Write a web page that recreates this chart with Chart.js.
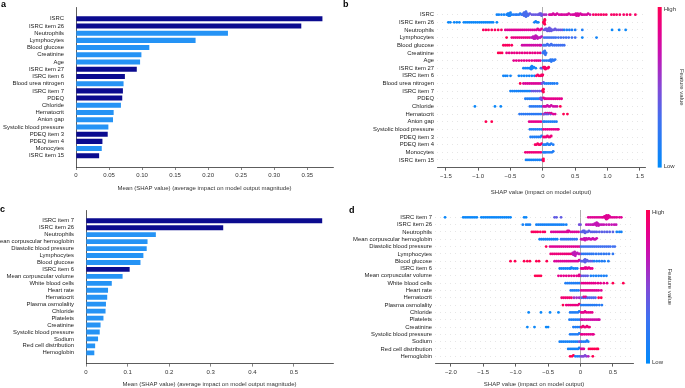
<!DOCTYPE html>
<html>
<head>
<meta charset="utf-8">
<script src="https://cdn.jsdelivr.net/npm/chart.js@4.4.1/dist/chart.umd.min.js"></script>
<style>
body { margin: 0; background: #fff; width: 685px; height: 388px; position: relative; overflow: hidden; font-family: "Liberation Sans", Arial, sans-serif; }
canvas { position: absolute; }
.tag { position: absolute; font-weight: bold; font-size: 9px; color: #000; line-height: 10px; }
</style>
</head>
<body>
<canvas id="chartA" width="340" height="196" style="left:0;top:0"></canvas>
<canvas id="chartB" width="345" height="197" style="left:340px;top:0"></canvas>
<canvas id="chartC" width="340" height="193" style="left:0;top:195px"></canvas>
<canvas id="chartD" width="345" height="193" style="left:340px;top:195px"></canvas>
<div class="tag" style="left:1px;top:-1px">a</div>
<div class="tag" style="left:343px;top:-1px">b</div>
<div class="tag" style="left:0;top:204px">c</div>
<div class="tag" style="left:349px;top:205px">d</div>
<script>
// features, top to bottom
var topLabels = ['ISRC', 'ISRC item 26', 'Neutrophils', 'Lymphocytes', 'Blood glucose', 'Creatinine', 'Age',
    'ISRC item 27', 'ISRC item 6', 'Blood urea nitrogen', 'ISRC item 7', 'PDEQ', 'Chloride', 'Hematocrit',
    'Anion gap', 'Systolic blood pressure', 'PDEQ item 3', 'PDEQ item 4', 'Monocytes', 'ISRC item 15'];
var bottomLabels = ['ISRC item 7', 'ISRC item 26', 'Neutrophils', 'Mean corpuscular hemoglobin', 'Diastolic blood pressure',
    'Lymphocytes', 'Blood glucose', 'ISRC item 6', 'Mean corpuscular volume', 'White blood cells', 'Heart rate',
    'Hematocrit', 'Plasma osmolality', 'Chloride', 'Platelets', 'Creatinine', 'Systolic blood pressure', 'Sodium',
    'Red cell distribution', 'Hemoglobin'];

// mean |SHAP|
var aValues = [0.373, 0.341, 0.230, 0.181, 0.111, 0.099, 0.097, 0.092, 0.074, 0.072, 0.071, 0.070, 0.068,
    0.057, 0.056, 0.049, 0.048, 0.040, 0.039, 0.035];
var cValues = [0.568, 0.330, 0.168, 0.148, 0.146, 0.138, 0.131, 0.105, 0.088, 0.062, 0.053, 0.051, 0.048,
    0.047, 0.042, 0.035, 0.033, 0.029, 0.022, 0.020];

var aTicks = [0, 0.05, 0.10, 0.15, 0.20, 0.25, 0.30, 0.35];
var cTicks = [0, 0.1, 0.2, 0.3, 0.4, 0.5];
var bTicks = [-1.5, -1.0, -0.5, 0, 0.5, 1.0, 1.5];
var dTicks = [-2.0, -1.5, -1.0, -0.5, 0, 0.5];

// SHAP dots per feature: [feature value 0..1, [shap values]]
var bRows = [
    [[0.08, [-0.71, -0.68, -0.64, -0.6]], [0.1, [-0.56, -0.55, -0.54, -0.53, -0.52, -0.52, -0.51, -0.5, -0.48]],
     [0.18, [-0.45, -0.42, -0.4, -0.37, -0.35, -0.33]],
     [0.32, [-0.31, -0.3, -0.29, -0.29, -0.28, -0.28, -0.27, -0.27, -0.26, -0.26, -0.25, -0.24, -0.23, -0.22]],
     [0.42, [-0.2, -0.17, -0.14, -0.11, -0.08, -0.06, -0.05, -0.04, -0.03, -0.02, -0.01]], [0.6, [0.02, 0.05]],
     [0.78, [0.1, 0.12, 0.14, 0.16, 0.18, 0.2, 0.22, 0.25, 0.28, 0.3, 0.33, 0.36, 0.38, 0.4, 0.43, 0.46, 0.48, 0.5, 0.51,
       0.52, 0.53, 0.54, 0.55, 0.56, 0.58, 0.6, 0.62, 0.65, 0.68, 0.7, 0.73]],
     [0.95, [0.78, 0.82, 0.86, 0.9, 0.94, 0.98, 1.06, 1.1, 1.14, 1.19, 1.25, 1.3, 1.35, 1.43]]],
    [[0.05, [-1.46, -1.43, -1.37, -1.33, -1.29, -1.22, -1.19, -1.16, -1.13, -1.1, -1.07, -1.04, -1.01, -0.98, -0.95,
       -0.92, -0.89, -0.86, -0.83, -0.8, -0.77, -0.71]], [0.1, [-0.13, -0.11, -0.09, -0.07]],
     [1, [0.01, 0.02, 0.02, 0.02, 0.03, 0.03, 0.03]]],
    [[0.97, [-0.92, -0.88, -0.84, -0.79, -0.74, -0.69, -0.64]],
     [0.82, [-0.58, -0.55, -0.52, -0.49, -0.46, -0.43, -0.4, -0.37, -0.34, -0.31, -0.28, -0.25, -0.22, -0.19, -0.16,
       -0.13, -0.1, -0.08, -0.06, -0.04, -0.02]],
     [0.42, [0.02, 0.04, 0.05, 0.06, 0.07, 0.08, 0.09, 0.1, 0.1, 0.11, 0.12, 0.13, 0.15, 0.17, 0.19, 0.21, 0.24, 0.27, 0.3]],
     [0.15, [0.33, 0.37, 0.41, 0.45, 0.5, 0.61]], [0.05, [1.07, 1.18, 1.28]]],
    [[1, [-0.56]], [0.88, [-0.48, -0.45, -0.42, -0.39, -0.36, -0.33, -0.3, -0.27, -0.24, -0.21]],
     [0.68, [-0.18, -0.16, -0.15, -0.14, -0.13, -0.12, -0.12, -0.11, -0.1, -0.09, -0.08, -0.06, -0.04, -0.02]],
     [0.3, [0.02, 0.05, 0.08, 0.11, 0.14, 0.17, 0.2, 0.24, 0.28, 0.32, 0.36, 0.4, 0.45, 0.5]], [0.08, [0.61, 0.83]]],
    [[0.97, [-0.61, -0.58, -0.55, -0.52, -0.48]],
     [0.75, [-0.32, -0.29, -0.26, -0.23, -0.2, -0.17, -0.14, -0.11, -0.08, -0.05, -0.03]],
     [0.3, [0.01, 0.03, 0.05, 0.07, 0.09, 0.11, 0.13, 0.15, 0.18, 0.21, 0.24, 0.27, 0.3, 0.33]]],
    [[1, [-0.69, -0.66, -0.63]],
     [0.87, [-0.56, -0.52, -0.48, -0.44, -0.4, -0.36, -0.32, -0.28, -0.24, -0.2, -0.16, -0.12, -0.08, -0.04]],
     [0.25, [0.0, 0.01, 0.02, 0.02, 0.03, 0.03, 0.04, 0.05]]],
    [[0.85, [-0.45, -0.41, -0.37, -0.33, -0.29, -0.25, -0.21, -0.17, -0.13, -0.1, -0.07, -0.04]],
     [0.2, [0.0, 0.03, 0.06, 0.09, 0.11, 0.12, 0.13, 0.14, 0.15, 0.17, 0.19]]],
    [[0.1, [-0.3, -0.27, -0.24, -0.21, -0.19, -0.18, -0.18, -0.17, -0.16, -0.14, -0.11]], [0.35, [-0.03, -0.01]],
     [0.95, [0.01, 0.02, 0.03, 0.04, 0.06, 0.08, 0.09]]],
    [[0.08, [-0.61, -0.58, -0.55, -0.5, -0.37, -0.33, -0.29, -0.25, -0.21, -0.17, -0.13]],
     [0.95, [-0.1, -0.08, -0.06, -0.04, -0.02, -0.01, 0.0]]],
    [[1, [-0.35]], [0.8, [-0.3, -0.27, -0.24, -0.21, -0.18, -0.15, -0.12, -0.09, -0.06, -0.03]], [0.45, [-0.01, 0.01]],
     [0.15, [0.03, 0.06, 0.09, 0.12, 0.15, 0.18, 0.22]]],
    [[0.1, [-0.5, -0.47, -0.44, -0.41, -0.38, -0.35, -0.32, -0.29, -0.26, -0.23, -0.2]],
     [0.42, [-0.17, -0.14, -0.11, -0.08, -0.05, -0.02]], [1, [0.0, 0.0, 0.01, 0.01]]],
    [[0.15, [-0.27, -0.24, -0.21, -0.18, -0.15, -0.12, -0.09, -0.06]], [0.45, [-0.04, -0.03, -0.02, -0.01]],
     [0.85, [0.01, 0.03, 0.05, 0.08, 0.11, 0.14, 0.17, 0.2, 0.23, 0.26, 0.29]]],
    [[0.05, [-1.05, -0.74, -0.65]], [0.2, [-0.2, -0.17, -0.14, -0.11, -0.08, -0.05, -0.02]],
     [0.75, [0.01, 0.03, 0.05, 0.07, 0.09, 0.11, 0.13, 0.16, 0.19, 0.22]], [1, [0.27]]],
    [[0.2, [-0.36, -0.33, -0.3, -0.27, -0.24, -0.21, -0.18, -0.15, -0.12, -0.09, -0.06, -0.03]],
     [0.8, [0.01, 0.04, 0.07, 0.1, 0.13, 0.16, 0.19]], [0.4, [0.02, 0.05, 0.08, 0.12]], [1, [0.32, 0.38]]],
    [[1, [-0.88, -0.79]], [0.85, [-0.21, -0.18, -0.15, -0.12, -0.09, -0.06, -0.03]],
     [0.15, [0.01, 0.03, 0.06, 0.09, 0.12, 0.15, 0.18, 0.21]]],
    [[0.15, [-0.2, -0.17, -0.14, -0.11, -0.08, -0.05, -0.02]],
     [0.85, [0.01, 0.04, 0.07, 0.1, 0.13, 0.16, 0.19, 0.22, 0.24]]],
    [[0.15, [-0.19, -0.16, -0.13, -0.1, -0.07, -0.04, -0.02]], [0.9, [0.01, 0.03, 0.05, 0.07, 0.09, 0.11, 0.13]]],
    [[0.95, [-0.12, -0.1, -0.08, -0.06, -0.04, -0.02]], [0.15, [0.01, 0.03, 0.05, 0.07, 0.09, 0.11, 0.13, 0.16]]],
    [[0.9, [-0.27, -0.24, -0.21, -0.18, -0.15, -0.12, -0.09, -0.06, -0.03]],
     [0.15, [0.01, 0.03, 0.05, 0.08, 0.11, 0.14, 0.16]]],
    [[0.1, [-0.26, -0.23, -0.2, -0.17, -0.14, -0.11, -0.08, -0.05, -0.02]], [1, [0.0, 0.01, 0.01]]]
];

var dRows = [
    [[0.05, [-2.09, -1.81, -1.78, -1.75, -1.72, -1.69, -1.66, -1.63, -1.6, -1.53, -1.5, -1.47, -1.44, -1.41, -1.38,
       -1.35, -1.32, -1.29, -1.26, -1.23, -1.2, -1.17, -1.14, -1.11, -1.08, -0.87, -0.84]], [0.4, [-0.4, -0.37, -0.3]],
     [0.82, [0.12, 0.15, 0.18, 0.21, 0.24, 0.27, 0.3, 0.33, 0.35, 0.37, 0.38, 0.39, 0.39, 0.4, 0.4, 0.41, 0.41, 0.42,
       0.43, 0.44, 0.45, 0.47, 0.5, 0.53, 0.56, 0.6, 0.63]]],
    [[0.1, [-0.89, -0.84, -0.81, -0.78, -0.68, -0.65, -0.62, -0.59, -0.56, -0.53, -0.5, -0.47, -0.44, -0.41, -0.38,
       -0.35, -0.32, -0.29, -0.26, -0.22]], [0.45, [-0.02, 0.0]],
     [0.7, [0.09, 0.12, 0.15, 0.18, 0.2, 0.22, 0.23, 0.24, 0.25, 0.25, 0.26, 0.27, 0.28, 0.3, 0.33, 0.36, 0.4, 0.44,
       0.48, 0.52, 0.55]]],
    [[0.97, [-0.75, -0.72, -0.69, -0.66, -0.62, -0.58, -0.55]],
     [0.8, [-0.45, -0.42, -0.39, -0.36, -0.33, -0.3, -0.27, -0.24, -0.21, -0.2, -0.19, -0.18, -0.15, -0.12, -0.09,
       -0.06, -0.03]],
     [0.38, [0.01, 0.03, 0.04, 0.05, 0.06, 0.07, 0.09, 0.11, 0.13, 0.16, 0.19, 0.22, 0.25, 0.29, 0.33, 0.37, 0.41,
       0.45, 0.5]], [0.1, [0.56, 0.6, 0.63]]],
    [[0.1, [-0.63, -0.6, -0.57, -0.54, -0.51, -0.48, -0.45, -0.42, -0.39, -0.36]],
     [0.25, [-0.3, -0.27, -0.24, -0.21, -0.18, -0.15, -0.12, -0.09, -0.06]],
     [0.72, [0.01, 0.03, 0.05, 0.06, 0.07, 0.08, 0.09, 0.11, 0.13, 0.15, 0.17, 0.19, 0.21, 0.23, 0.25]]],
    [[1, [-0.53]], [0.82, [-0.47, -0.44, -0.41, -0.38, -0.35, -0.32, -0.29, -0.26, -0.23, -0.2, -0.17, -0.14, -0.11,
       -0.08, -0.05, -0.02]],
     [0.3, [0.01, 0.04, 0.07, 0.1, 0.13, 0.16, 0.19, 0.22, 0.25, 0.28, 0.31, 0.34, 0.37, 0.4, 0.43, 0.46, 0.5, 0.53]]],
    [[0.9, [-0.46, -0.43, -0.4, -0.37, -0.34, -0.31, -0.28, -0.25, -0.22, -0.19, -0.16, -0.13]],
     [0.68, [-0.12, -0.11, -0.1, -0.1, -0.09, -0.09, -0.08, -0.07, -0.05, -0.03, -0.01]],
     [0.22, [0.02, 0.05, 0.08, 0.11, 0.14, 0.17, 0.2, 0.24, 0.28, 0.32, 0.36, 0.4, 0.44, 0.5]]],
    [[1, [-1.08, -1.01, -0.87, -0.82, -0.78, -0.68, -0.64, -0.52]],
     [0.8, [-0.4, -0.37, -0.34, -0.31, -0.28, -0.25, -0.22, -0.19, -0.16, -0.13, -0.1, -0.07, -0.04, -0.02]],
     [0.38, [0.01, 0.03, 0.05, 0.06, 0.07, 0.07, 0.08, 0.1, 0.12, 0.15, 0.18]], [0.15, [0.21, 0.25, 0.29, 0.33, 0.37, 0.43]]],
    [[0.1, [-0.32, -0.29, -0.26, -0.23, -0.2, -0.17, -0.15, -0.14, -0.11, -0.08, -0.05]],
     [0.85, [0.01, 0.03, 0.05, 0.07, 0.08, 0.09, 0.11, 0.13, 0.15, 0.18]]],
    [[1, [-0.7, -0.67, -0.64, -0.61]], [0.85, [-0.34, -0.3, -0.26, -0.22, -0.18, -0.14, -0.1, -0.06, -0.03, -0.02, -0.01]],
     [0.4, [0.02, 0.05, 0.08, 0.11]], [0.12, [0.16, 0.2, 0.24, 0.28, 0.32, 0.36, 0.4]]],
    [[0.15, [-0.23, -0.2, -0.17, -0.14, -0.11, -0.08, -0.05, -0.02]],
     [0.85, [0.02, 0.05, 0.08, 0.11, 0.14, 0.17, 0.2, 0.23, 0.27, 0.31, 0.36, 0.41]], [1, [0.5, 0.66]]],
    [[0.15, [-0.15, -0.12, -0.09, -0.06, -0.03]], [0.82, [0.01, 0.04, 0.07, 0.1, 0.13, 0.16, 0.19, 0.22, 0.25, 0.28, 0.32]]],
    [[0.92, [-0.29, -0.26, -0.23, -0.2, -0.17, -0.14]], [0.6, [-0.1, -0.06, -0.02]],
     [0.35, [0.02, 0.05, 0.08, 0.11, 0.14, 0.17, 0.2, 0.23]], [0.85, [0.05, 0.08]], [1, [0.28, 0.32]]],
    [[1, [-0.27]], [0.88, [-0.22, -0.19, -0.16, -0.13, -0.1, -0.07, -0.04, -0.02]],
     [0.18, [0.01, 0.04, 0.07, 0.1, 0.13, 0.16, 0.19, 0.22, 0.25, 0.29, 0.33]]],
    [[0.05, [-0.8, -0.61, -0.47, -0.34]], [0.15, [-0.16, -0.13, -0.1, -0.07, -0.04, -0.02]],
     [0.85, [0.01, 0.03, 0.05, 0.07, 0.09, 0.12, 0.15, 0.18]]],
    [[0.15, [-0.17, -0.14, -0.11, -0.08, -0.05, -0.02]],
     [0.75, [0.01, 0.03, 0.06, 0.09, 0.12, 0.15, 0.18, 0.21, 0.24, 0.27, 0.29]]],
    [[0.05, [-0.82, -0.71, -0.53, -0.5]], [0.15, [-0.11, -0.08, -0.05, -0.02]],
     [0.9, [0.01, 0.02, 0.04, 0.06, 0.08, 0.1, 0.12, 0.14]]],
    [[0.15, [-0.16, -0.13, -0.1, -0.07, -0.04, -0.02]], [0.85, [0.01, 0.03, 0.06, 0.09, 0.12, 0.15, 0.18, 0.2]]],
    [[0.1, [-0.32, -0.29, -0.26, -0.23, -0.2, -0.17, -0.14, -0.11, -0.08, -0.05]], [0.45, [-0.02, 0.0]],
     [0.15, [0.02, 0.05, 0.08, 0.1, 0.12]]],
    [[0.1, [-0.19, -0.16, -0.13, -0.1, -0.07, -0.04, -0.02]], [0.8, [0.01, 0.03, 0.05]],
     [1, [0.13, 0.16, 0.19, 0.22, 0.25, 0.27]]],
    [[1, [-0.16, -0.13, -0.11]], [0.15, [-0.08, -0.05, -0.02]], [0.5, [0.01, 0.03, 0.05, 0.07, 0.09]], [0.65, [0.12]],
     [1, [0.19]]]
];

var FONT = '"Liberation Sans", Arial, sans-serif';
var DARK = '#0b0b8f';
var LIGHT = '#2593f5';
var STOPS = [[0, [0, 139, 251]], [0.3, [64, 112, 240]], [0.5, [132, 72, 214]], [0.7, [196, 20, 180]],
    [0.85, [230, 0, 140]], [1, [255, 0, 82]]];

Chart.defaults.font.family = FONT;
Chart.defaults.font.size = 6;
Chart.defaults.color = '#333';
Chart.defaults.animation = false;

function cmap(f) {
    for (var i = 1; i < STOPS.length; i++) {
        if (f <= STOPS[i][0]) {
            var a = STOPS[i - 1], b = STOPS[i], t = (f - a[0]) / (b[0] - a[0]);
            var c = a[1].map(function (v, k) { return Math.round(v + (b[1][k] - v) * t); });
            return 'rgb(' + c.join(',') + ')';
        }
    }
    return 'rgb(' + STOPS[STOPS.length - 1][1].join(',') + ')';
}

function minus(s) { return s.replace('-', '\u2212'); }

var colorbar = {
    id: 'colorbar',
    afterDraw: function (chart, args, opts) {
        if (opts.x === undefined) return;
        var ctx = chart.ctx, a = chart.chartArea;
        var g = ctx.createLinearGradient(0, a.bottom, 0, a.top);
        STOPS.forEach(function (s) { g.addColorStop(s[0], 'rgb(' + s[1].join(',') + ')'); });
        ctx.save();
        ctx.fillStyle = g;
        ctx.fillRect(opts.x, a.top, 4, a.bottom - a.top);
        ctx.fillStyle = '#333';
        ctx.font = '6px ' + FONT;
        ctx.textAlign = 'left';
        ctx.textBaseline = 'middle';
        ctx.fillText('High', opts.x + 6, a.top + 2);
        ctx.fillText('Low', opts.x + 6, a.bottom - 1);
        ctx.translate(opts.lx, (a.top + a.bottom) / 2);
        ctx.rotate(Math.PI / 2);
        ctx.textAlign = 'center';
        ctx.fillText('Feature value', 0, 0);
        ctx.restore();
    }
};

function barChart(id, labels, values, ticks, fmt, xMax, g) {
    var n = labels.length;
    new Chart(document.getElementById(id), {
        type: 'bar',
        data: {
            datasets: [{
                data: values.map(function (v, i) { return { x: v, y: n - 1 - i }; }),
                backgroundColor: labels.map(function (l) { return /^(ISRC|PDEQ)/.test(l) ? DARK : LIGHT; }),
                barPercentage: 0.7,
                categoryPercentage: 1
            }]
        },
        options: {
            indexAxis: 'y',
            responsive: false,
            layout: { padding: { top: g.top, right: g.right, left: 0, bottom: 0 } },
            plugins: { legend: { display: false }, tooltip: { enabled: false } },
            scales: {
                x: {
                    type: 'linear', min: 0, max: xMax,
                    afterBuildTicks: function (s) { s.ticks = ticks.map(function (v) { return { value: v }; }); },
                    afterFit: function (s) { s.height = g.xh; },
                    ticks: { callback: fmt, padding: 2, maxRotation: 0, autoSkip: false, color: '#333' },
                    grid: { drawOnChartArea: false, tickLength: 3, color: '#333', lineWidth: 0.6 },
                    border: { color: '#333', width: 0.8 },
                    title: { display: true, text: 'Mean (SHAP value) (average impact on model output magnitude)',
                             color: '#333', padding: { top: 0, bottom: g.tb } }
                },
                y: {
                    type: 'linear', min: -1, max: n,
                    afterBuildTicks: function (s) { s.ticks = labels.map(function (l, i) { return { value: n - 1 - i }; }); },
                    afterFit: function (s) { s.width = g.yw; },
                    ticks: { callback: function (v) { return labels[n - 1 - v]; }, padding: 4, autoSkip: false,
                             color: '#222', font: { size: 5.9 } },
                    grid: { display: false },
                    border: { display: true, color: '#333', width: 0.8 }
                }
            }
        }
    });
}

function swarmChart(id, labels, rows, ticks, xMin, xMax, g) {
    var n = labels.length, pts = [], cols = [];
    rows.forEach(function (row, i) {
        var items = [];
        row.forEach(function (grp) { grp[1].forEach(function (x) { items.push([x, grp[0]]); }); });
        items.sort(function (p, q) { return p[0] - q[0]; });
        var bin = null, layer = 0;
        items.forEach(function (p) {
            var q = Math.round(p[0] / 0.03);
            if (q !== bin) { layer = 0; bin = q; }
            var off = Math.ceil(layer / 2) * (layer % 2 ? 1 : -1) * 0.13;
            layer++;
            pts.push({ x: p[0], y: n - 1 - i + Math.max(-0.4, Math.min(0.4, off)) });
            cols.push(cmap(p[1]));
        });
    });
    new Chart(document.getElementById(id), {
        type: 'scatter',
        data: { datasets: [{ data: pts, pointBackgroundColor: cols, pointRadius: 1.4, pointBorderWidth: 0 }] },
        options: {
            responsive: false,
            layout: { padding: { top: g.top, right: g.right, left: 0, bottom: 0 } },
            plugins: { legend: { display: false }, tooltip: { enabled: false }, colorbar: { x: g.cbx, lx: g.lx } },
            scales: {
                x: {
                    type: 'linear', min: xMin, max: xMax,
                    afterBuildTicks: function (s) { s.ticks = ticks.map(function (v) { return { value: v }; }); },
                    afterFit: function (s) { s.height = g.xh; },
                    ticks: { callback: function (v) { return v === 0 ? '0' : minus(v.toFixed(1)); },
                             padding: 2, maxRotation: 0, autoSkip: false, color: '#333' },
                    grid: {
                        color: function (c) { return c.tick && c.tick.value === 0 ? '#999' : 'rgba(0,0,0,0)'; },
                        tickColor: '#333', tickLength: 3, lineWidth: 0.8
                    },
                    border: { color: '#333', width: 0.8 },
                    title: { display: true, text: 'SHAP value (impact on model output)', color: '#333',
                             padding: { top: 0, bottom: g.tb } }
                },
                y: {
                    type: 'linear', min: -1, max: n,
                    afterBuildTicks: function (s) { s.ticks = labels.map(function (l, i) { return { value: n - 1 - i }; }); },
                    afterFit: function (s) { s.width = g.yw; },
                    ticks: { callback: function (v) { return labels[n - 1 - v]; }, padding: 3, autoSkip: false,
                             color: '#222', font: { size: 5.9 } },
                    grid: { color: '#ccc', lineWidth: 0.5, drawTicks: false },
                    border: { display: false, dash: [1, 4] }
                }
            }
        },
        plugins: [colorbar]
    });
}

barChart('chartA', topLabels, aValues, aTicks, function (v) { return v === 0 ? '0' : v.toFixed(2); }, 0.389,
    { top: 7, right: 7, yw: 76, xh: 29, tb: 4 });
barChart('chartC', bottomLabels, cValues, cTicks, function (v) { return v === 0 ? '0' : v.toFixed(1); }, 0.594,
    { top: 15, right: 7, yw: 86, xh: 24.4, tb: 0 });
swarmChart('chartB', topLabels, bRows, bTicks, -1.636, 1.579,
    { top: 7, right: 40, yw: 97, xh: 29.4, tb: 1, cbx: 317.7, lx: 341.5 });
swarmChart('chartD', bottomLabels, dRows, dTicks, -2.245, 0.81,
    { top: 15, right: 52, yw: 95, xh: 24.4, tb: 0, cbx: 306, lx: 330 });
</script>
</body>
</html>
